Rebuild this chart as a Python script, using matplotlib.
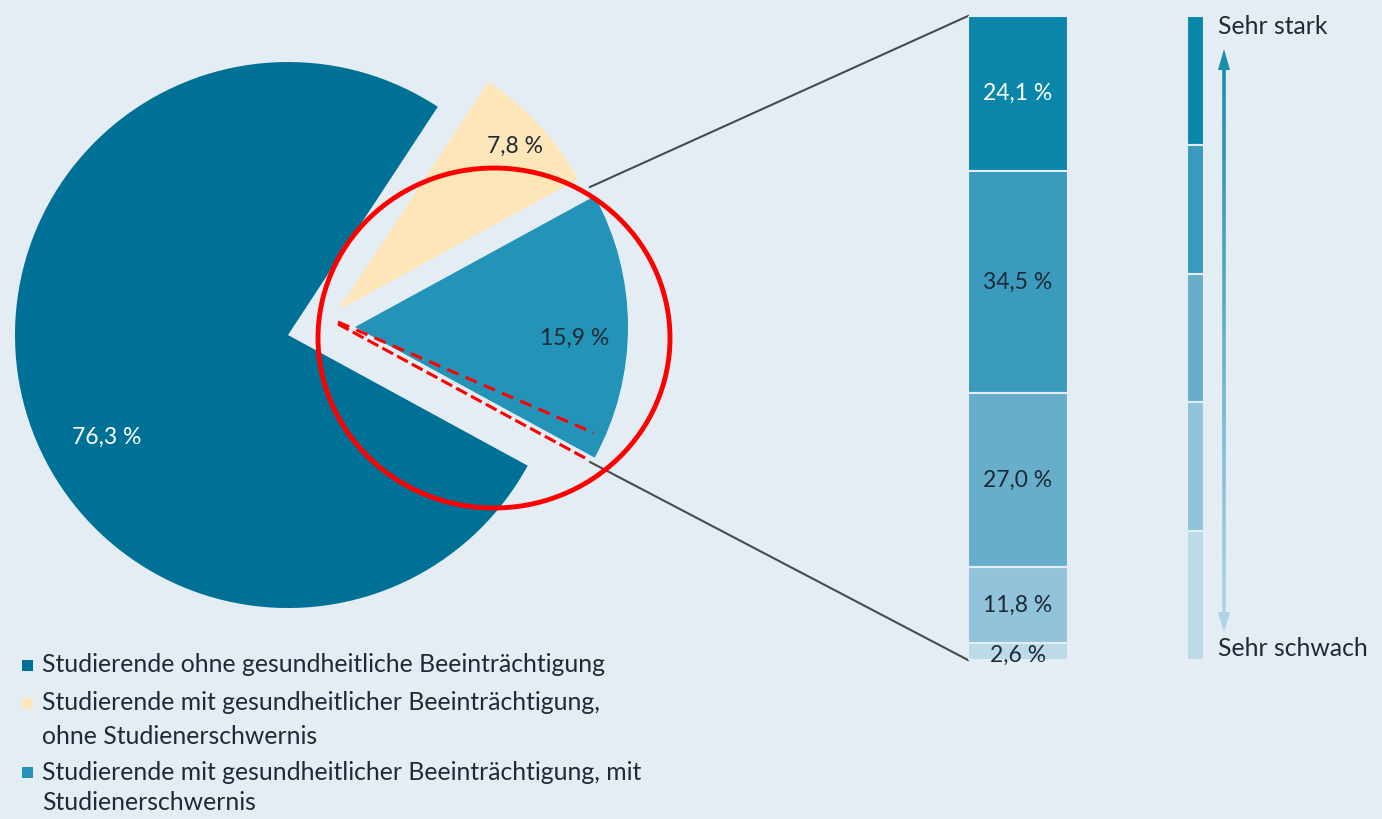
import numpy as np
import matplotlib
matplotlib.use("Agg")
import matplotlib.pyplot as plt
from matplotlib.patches import Rectangle, Ellipse, Polygon
from matplotlib.collections import LineCollection

# ---------------- data ----------------
pie_labels = ["Studierende mit gesundheitlicher Beeinträchtigung, mit\nStudienerschwernis",
              "Studierende mit gesundheitlicher Beeinträchtigung,\nohne Studienerschwernis",
              "Studierende ohne gesundheitliche Beeinträchtigung"]
pie_values = [15.9, 7.8, 76.3]
pie_colors = ["#2393B8", "#FEE6B8", "#007196"]
pie_text_colors = ["#1E2A36", "#1E2A36", "white"]

bar_values = [24.1, 34.5, 27.0, 11.8, 2.6]          # top -> bottom
bar_colors = ["#0A86AB", "#3A9BBE", "#67AECB", "#91C3DB", "#BCDAE8"]
bar_text_colors = ["white", "#1E2A36", "#1E2A36", "#1E2A36", "#1E2A36"]

scale_labels = ["Sehr stark", "Sehr schwach"]
legend_order = [2, 1, 0]

BG = "#E4EDF4"
DARK = "#1E2A36"
W, H = 1382, 819
FONT = "Lato"

def fmt(v):
    return f"{v:.1f} %".replace(".", ",")

def Y(y):
    return H - y

fig = plt.figure(figsize=(W / 100, H / 100), dpi=100, facecolor=BG)
ax = fig.add_axes([0, 0, 1, 1])
ax.set_facecolor(BG)

# ---------------- pie ----------------
center = (320, Y(327))
radius = 273
explode = [35, 25, 33]
wedges, _ = ax.pie(pie_values, colors=pie_colors, startangle=-28.6, counterclock=True,
                   explode=explode, radius=radius, center=center,
                   wedgeprops=dict(linewidth=0))
ax.set_xlim(0, W)
ax.set_ylim(0, H)
ax.set_aspect("auto")
ax.axis("off")

label_pos = [(575, 338), (515, 146), (107, 437)]
for v, (x, y), c in zip(pie_values, label_pos, pie_text_colors):
    ax.text(x, Y(y), fmt(v), ha="center", va="center", color=c,
            fontsize=16.5, family=FONT)

# connector lines
ax.plot([590, 968], [Y(187), Y(16)], color="#4A4A4A", lw=1.5)
ax.plot([590, 968], [Y(462), Y(660)], color="#4A4A4A", lw=1.5)

# red annotation circle and dashed lines
ax.add_patch(Ellipse((494, Y(338)), 352, 340, fill=False, edgecolor="#FF0000", lw=3.5, zorder=5))
ax.plot([338, 594], [Y(322), Y(433)], color="#FF0000", lw=2.2, ls=(0, (4, 2.5)), zorder=5)
ax.plot([338, 585], [Y(324), Y(458)], color="#FF0000", lw=2.2, ls=(0, (4, 1.5)), zorder=5)

# legend
leg_y = [[665], [703, 736], [772, 802]]
for k, idx in enumerate(legend_order):
    lines = pie_labels[idx].split("\n")
    ys = leg_y[k]
    ax.add_patch(Rectangle((22, Y(ys[0]) - 5.5), 11, 11, color=pie_colors[idx], lw=0))
    for line, yy in zip(lines, ys):
        ax.text(42, Y(yy), line, ha="left", va="center", color=DARK, fontsize=17.8, family=FONT)

# ---------------- stacked bar ----------------
bx0, bx1, by0, by1 = 968, 1068, 16, 660
bax = fig.add_axes([bx0 / W, 1 - by1 / H, (bx1 - bx0) / W, (by1 - by0) / H])
bax.set_xlim(-0.5, 0.5)
bax.set_ylim(sum(bar_values), 0)
bax.axis("off")
bottoms = np.concatenate([[0], np.cumsum(bar_values)[:-1]])
bax.bar(0, bar_values, bottom=bottoms, width=1.0, color=bar_colors,
        edgecolor=BG, linewidth=1.5)
for v, b, c in zip(bar_values, bottoms, bar_text_colors):
    yc = b + v / 2
    if v < 5:
        yc = b + v / 2 + 0.6
    bax.text(0, yc, fmt(v), ha="center", va="center", color=c, fontsize=16.5, family=FONT,
             clip_on=False)

# ---------------- intensity scale ----------------
sx0, sx1 = 1187, 1204
sax = fig.add_axes([sx0 / W, 1 - by1 / H, (sx1 - sx0) / W, (by1 - by0) / H])
sax.set_xlim(-0.5, 0.5)
nseg = len(bar_colors)
sax.set_ylim(nseg, 0)
sax.axis("off")
sax.bar(0, [1] * nseg, bottom=np.arange(nseg), width=1.0, color=bar_colors,
        edgecolor=BG, linewidth=1.5)

# gradient arrow
ax_x = 1224
y_top, y_bot = 70, 612
ys = np.linspace(y_top, y_bot, 120)
segs = [[(ax_x, Y(ys[i])), (ax_x, Y(ys[i + 1]))] for i in range(len(ys) - 1)]
c_top = np.array(matplotlib.colors.to_rgb("#1A8CB0"))
c_bot = np.array(matplotlib.colors.to_rgb("#AFD3E4"))
cols = [c_top + (c_bot - c_top) * t for t in np.linspace(0, 1, len(segs))]
ax.add_collection(LineCollection(segs, colors=cols, linewidths=2.6))
ax.add_patch(Polygon([(ax_x - 6, Y(y_top)), (ax_x + 6, Y(y_top)), (ax_x, Y(49))],
                     closed=True, color=tuple(c_top), lw=0))
ax.add_patch(Polygon([(ax_x - 6, Y(y_bot)), (ax_x + 6, Y(y_bot)), (ax_x, Y(632))],
                     closed=True, color=tuple(c_bot), lw=0))

ax.text(1218, Y(27), scale_labels[0], ha="left", va="center", color=DARK, fontsize=17.8, family=FONT)
ax.text(1218, Y(649), scale_labels[1], ha="left", va="center", color=DARK, fontsize=17.8, family=FONT)

fig.savefig("out.png", dpi=100, facecolor=BG)
